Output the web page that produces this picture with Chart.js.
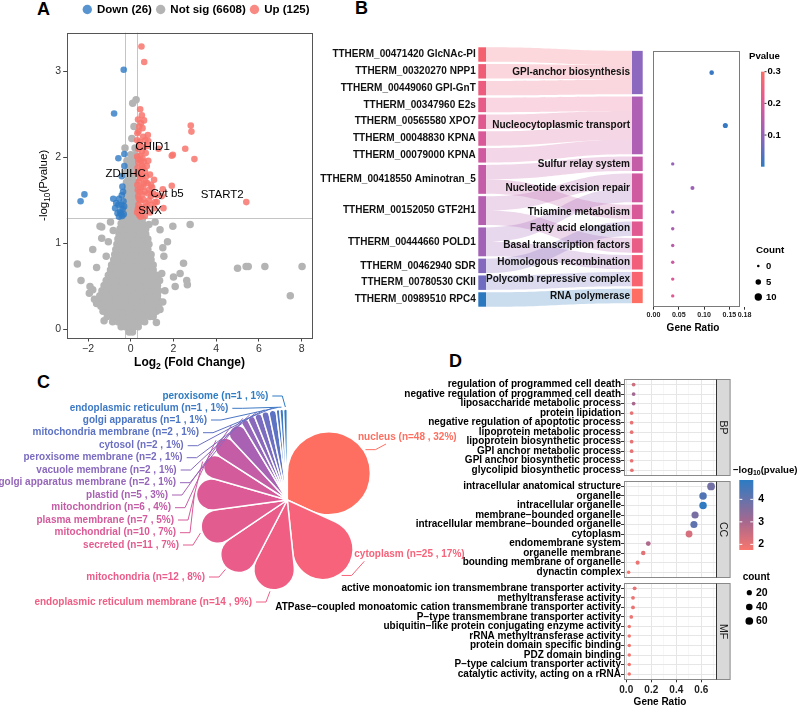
<!DOCTYPE html>
<html><head><meta charset="utf-8">
<script src="https://cdn.jsdelivr.net/npm/chart.js@4.4.1/dist/chart.umd.min.js"></script>
<style>
html,body{margin:0;padding:0;background:#fff}
body{position:relative;width:798px;height:707px;overflow:hidden;font-family:'Liberation Sans',Arial,Helvetica,sans-serif}
canvas{position:absolute}
.pl{position:absolute;font-weight:bold;font-size:18px;line-height:18px;color:#000}
</style></head><body>
<div class="pl" style="left:37px;top:0px">A</div>
<div class="pl" style="left:355px;top:-1px">B</div>
<div class="pl" style="left:37px;top:373px">C</div>
<div class="pl" style="left:449px;top:352px">D</div>
<canvas id="cC"></canvas>
<canvas id="cD"></canvas>
<canvas id="cA"></canvas>
<canvas id="cS"></canvas>
<canvas id="cB"></canvas>
<script>
// ===================== DATA =====================
// ---- Panel A: volcano ----
const volcanoXTicks = [-2,0,2,4,6,8];
const volcanoYTicks = [0,1,2,3];
const fcCut = 0.28, pCut = 1.301;
const legendA = ['Down (26)','Not sig (6608)','Up (125)'];
const upPts = [[0.50,3.29],[0.63,3.11],[0.44,2.56],[0.52,2.49],[0.62,2.43],[0.34,2.44],[0.40,2.36],[0.55,2.34],[0.31,2.28],[0.80,2.26],[0.58,2.24],[0.30,2.20],[0.82,2.19],[0.40,2.14],[0.75,2.13],[0.52,2.07],[0.30,2.01],[0.55,1.99],[0.36,1.94],[0.82,1.96],[0.52,1.90],[0.66,1.84],[0.31,1.82],[0.90,1.80],[0.44,1.76],[0.69,1.72],[1.09,1.74],[0.31,1.68],[0.58,1.66],[1.50,1.63],[1.92,1.67],[0.42,1.60],[0.82,1.58],[1.14,1.48],[0.58,1.51],[0.36,1.45],[0.75,1.43],[1.09,1.41],[0.52,1.37],[0.30,1.36],[0.90,1.36],[0.66,1.32],[2.81,2.37],[2.84,2.30],[2.55,2.10],[1.97,2.03],[2.98,1.98],[5.41,1.48],[1.45,1.55],[1.22,1.56],[1.53,1.41],[1.22,1.48],[1.30,2.10],[1.92,2.02],[0.35,1.55],[0.45,1.50],[0.65,1.60],[0.38,1.72],[0.62,1.95],[0.45,2.02],[0.70,2.05],[0.35,2.10],[0.95,1.55],[0.50,1.42],[0.40,1.33],[0.78,1.70],[0.98,1.45],[0.32,1.88],[0.48,1.85],[1.00,1.65],[0.85,1.50],[0.33,1.40],[0.45,1.38],[0.60,1.40],[0.70,1.47],[0.38,1.52],[0.55,1.57],[0.33,1.62],[0.48,1.65],[0.62,1.70],[0.40,1.80],[0.55,1.78],[0.72,1.78],[0.35,1.98],[0.48,1.96],[0.42,2.18],[0.60,2.12],[0.36,2.30],[0.48,2.40],[0.58,1.88],[0.75,1.90],[0.95,1.68],[0.85,1.62],[1.05,1.58],[0.68,2.20],[0.46,1.31]];
const downPts = [[-0.33,3.02],[-0.78,2.51],[-0.30,2.04],[-0.58,1.99],[-0.30,1.90],[-0.42,1.78],[-0.39,1.66],[-2.17,1.57],[-2.35,1.49],[-0.82,1.52],[-0.42,1.56],[-0.73,1.41],[-0.50,1.37],[-0.38,1.40],[-0.58,1.45],[-0.34,1.49],[-0.47,1.35],[-0.62,1.35],[-0.36,1.60],[-0.55,1.52],[-0.33,1.34],[-0.44,1.45],[-0.68,1.47],[-0.31,1.43],[-0.40,1.32],[-0.55,1.31]];
const notSigRows = [
 [-0.03,[-0.08,0.08]],
 [0.03,[-0.45,-0.25,-0.05,0.15,0.35]],
 [0.09,[-0.85,-0.6,-0.35,-0.1,0.15,0.4,0.65]],
 [0.15,[-1.1,-0.85,-0.6,-0.35,-0.1,0.15,0.4,0.65,0.9,1.05]],
 [0.21,[-1.3,-1.05,-0.8,-0.55,-0.3,-0.05,0.2,0.45,0.7,0.95,1.2]],
 [0.27,[-1.4,-1.15,-0.9,-0.65,-0.4,-0.15,0.1,0.35,0.6,0.85,1.1,1.3]],
 [0.33,[-1.45,-1.2,-0.95,-0.7,-0.45,-0.2,0.05,0.3,0.55,0.8,1.05,1.3]],
 [0.39,[-1.45,-1.2,-0.95,-0.7,-0.45,-0.2,0.05,0.3,0.55,0.8,1.05,1.25]],
 [0.45,[-1.35,-1.1,-0.85,-0.6,-0.35,-0.1,0.15,0.4,0.65,0.9,1.15,1.3]],
 [0.51,[-1.25,-1.0,-0.75,-0.5,-0.25,0.0,0.25,0.5,0.75,1.0,1.25]],
 [0.57,[-1.15,-0.9,-0.65,-0.4,-0.15,0.1,0.35,0.6,0.85,1.1,1.35]],
 [0.63,[-1.05,-0.8,-0.55,-0.3,-0.05,0.2,0.45,0.7,0.95,1.2]],
 [0.69,[-0.95,-0.7,-0.45,-0.2,0.05,0.3,0.55,0.8,1.05]],
 [0.75,[-0.9,-0.65,-0.4,-0.15,0.1,0.35,0.6,0.85,1.05]],
 [0.81,[-0.8,-0.55,-0.3,-0.05,0.2,0.45,0.7,0.95]],
 [0.87,[-0.75,-0.5,-0.25,0.0,0.25,0.5,0.75,0.95]],
 [0.93,[-0.7,-0.45,-0.2,0.05,0.3,0.55,0.8]],
 [0.99,[-0.65,-0.4,-0.15,0.1,0.35,0.6,0.85]],
 [1.05,[-0.6,-0.35,-0.1,0.15,0.4,0.65,0.8]],
 [1.11,[-0.55,-0.3,-0.05,0.2,0.45,0.7]],
 [1.17,[-0.5,-0.25,0.0,0.25,0.5,0.7]],
 [1.23,[-0.45,-0.2,0.05,0.3,0.55]],
 [1.29,[-0.4,-0.15,0.1,0.35,0.55]],
 [1.35,[-0.2,0.0,0.2]],
 [1.41,[-0.22,-0.02,0.18]],
 [1.47,[-0.2,0.0,0.2]],
 [1.53,[-0.18,0.02,0.22]],
 [1.59,[-0.2,0.0,0.2]],
 [1.65,[-0.15,0.05,0.22]],
 [1.71,[-0.2,0.0,0.2]],
 [1.77,[-0.1,0.1]],
 [1.83,[-0.2,0.0,0.2]],
 [1.90,[-0.05,0.15]],
 [1.96,[-0.18,0.1]],
 [2.03,[0.0,0.2]],
 [2.11,[-0.27,0.2]],
 [2.22,[0.05]],
 [2.36,[0.15]],
 [2.63,[0.09]],
 [2.67,[0.25]]
];
const notSigScatter = [[2.78,1.22],[-1.36,1.19],[-0.82,1.15],[-1.78,0.93],[-2.50,0.76],[-2.33,0.57],[-1.94,0.42],[2.47,0.77],[2.62,0.57],[2.08,0.50],[1.72,1.02],[1.37,1.16],[1.14,1.25],[1.97,1.20],[-1.44,1.20],[-1.36,1.06],[1.37,0.23],[1.06,0.19],[2.00,0.61],[2.31,0.65],[2.65,0.52],[-1.78,0.46],[-1.91,0.50],[-1.60,0.72],[1.55,0.85],[1.60,0.45],[1.50,0.95],[-1.05,1.02],[-1.60,0.30],[-1.70,0.35],[1.50,0.32],[1.45,0.65],[-1.15,0.85],[5.00,0.71],[5.40,0.73],[5.50,0.73],[6.28,0.73],[8.02,0.73],[7.47,0.39],[-0.95,1.25],[0.85,1.22],[-1.25,0.10],[1.20,0.08]];
const geneTags = ['CHID1','ZDHHC','Cyt b5','START2','SNX'];
const geneTagPos = [[1.02,2.12],[-0.24,1.81],[1.70,1.58],[4.28,1.57],[0.90,1.38]];

// ---- Panel B: sankey + dot plot ----
const geneLabels = ['TTHERM_00471420 GlcNAc-PI','TTHERM_00320270 NPP1','TTHERM_00449060 GPI-GnT','TTHERM_00347960 E2s','TTHERM_00565580 XPO7','TTHERM_00048830 KPNA','TTHERM_00079000 KPNA','TTHERM_00418550 Aminotran_5','TTHERM_00152050 GTF2H1','TTHERM_00444660 POLD1','TTHERM_00462940 SDR','TTHERM_00780530 CKII','TTHERM_00989510 RPC4'];
const pathwayLabels = ['GPI-anchor biosynthesis','Nucleocytoplasmic transport','Sulfur relay system','Nucleotide excision repair','Thiamine metabolism','Fatty acid elongation','Basal transcription factors','Homologous recombination','Polycomb repressive complex','RNA polymerase'];
const sankeyLinks = [[0,0,1],[1,0,1],[2,0,1],[3,1,1],[4,1,1],[5,1,1],[6,1,1],[7,2,1],[7,4,1],[8,3,1],[8,6,1],[9,3,1],[9,7,1],[10,5,1],[11,8,1],[12,9,1]];
const pathwayRatio = [0.115,0.142,0.038,0.077,0.038,0.038,0.038,0.038,0.038,0.038];
const pathwayCount = [3,4,1,2,1,1,1,1,1,1];
const pathwayP = [0.012,0.008,0.10,0.11,0.10,0.13,0.15,0.17,0.20,0.21];
const ratioTicksB = [0,0.05,0.10,0.15,0.18];
const pvalTicksB = [0.1,0.2,0.3];
const countTicksB = [0,5,10];

// ---- Panel C: subcellular location rose ----
const locNames = ['nucleus','cytoplasm','endoplasmic reticulum membrane','mitochondria','secreted','mitochondrial','plasma membrane','mitochondrion','plastid','golgi apparatus membrane','vacuole membrane','peroxisome membrane','cytosol','mitochondria membrane','golgi apparatus','endoplasmic reticulum','peroxisome'];
const locCounts = [48,25,14,12,11,10,7,6,5,2,2,2,2,2,1,1,1];
const locPct = [32,17,9,8,7,7,5,4,3,1,1,1,1,1,1,1,1];

// ---- Panel D: GO enrichment ----
const bpTerms = ['regulation of programmed cell death','negative regulation of programmed cell death','liposaccharide metabolic process','protein lipidation','negative regulation of apoptotic process','lipoprotein metabolic process','lipoprotein biosynthetic process','GPI anchor metabolic process','GPI anchor biosynthetic process','glycolipid biosynthetic process'];
const bpRatio = [0.059,0.059,0.059,0.043,0.043,0.043,0.043,0.043,0.043,0.045];
const bpLogP = [2.4,3.1,3.0,2.0,2.0,2.0,2.0,2.0,2.0,2.0];
const bpCount = [5,5,5,4,4,4,4,4,4,4];
const ccTerms = ['intracellular anatomical structure','organelle','intracellular organelle','membrane\u2212bounded organelle','intracellular membrane\u2212bounded organelle','cytoplasm','endomembrane system','organelle membrane','bounding membrane of organelle','dynactin complex'];
const ccRatio = [0.678,0.614,0.614,0.550,0.541,0.502,0.176,0.136,0.091,0.019];
const ccLogP = [3.8,4.3,4.8,3.7,4.1,2.3,2.9,2.1,1.95,1.85];
const ccCount = [61,55,55,50,49,45,16,12,8,2];
const mfTerms = ['active monoatomic ion transmembrane transporter activity','methyltransferase activity','ATPase\u2212coupled monoatomic cation transmembrane transporter activity','P\u2212type transmembrane transporter activity','ubiquitin\u2212like protein conjugating enzyme activity','rRNA methyltransferase activity','protein domain specific binding','PDZ domain binding','P\u2212type calcium transporter activity','catalytic activity, acting on a rRNA'];
const mfRatio = [0.067,0.054,0.054,0.040,0.024,0.024,0.024,0.024,0.024,0.024];
const mfLogP = [2.0,1.95,1.95,1.9,1.85,1.85,1.85,1.85,1.85,1.85];
const mfCount = [6,5,5,4,2,2,2,2,2,2];
const facetNames = ['BP','CC','MF'];
const ratioTicksD = [0,0.1,0.2,0.3,0.4,0.5,0.6,0.7];
const logpTicksD = [2,3,4];
const countTicksD = [20,40,60];

// ===================== STYLE / LAYOUT =====================
const FONT = "'Liberation Sans', Arial, Helvetica, sans-serif";
Chart.defaults.font.family = FONT;
Chart.defaults.color = '#000';
function setup(id, left, top, w, h){ const c=document.getElementById(id); c.width=w; c.height=h; Object.assign(c.style,{left:left+'px',top:top+'px',width:w+'px',height:h+'px'}); return c; }
function hexA(h,a){ const n=parseInt(h.slice(1),16); return `rgba(${n>>16},${(n>>8)&255},${n&255},${a})`; }
function lerpStops(stops,t){ t=Math.max(0,Math.min(1,t)); for(let i=1;i<stops.length;i++){ if(t<=stops[i][0]){ const [t0,c0]=stops[i-1],[t1,c1]=stops[i]; const f=(t-t0)/(t1-t0); return `rgb(${c0.map((v,k)=>Math.round(v+(c1[k]-v)*f)).join(',')})`; } } const c=stops[stops.length-1][1]; return `rgb(${c.join(',')})`; }
function segText(ctx, segs, x, y, size, weight, align, color){
  ctx.save(); ctx.fillStyle=color; ctx.textBaseline='middle'; ctx.textAlign='left';
  const f = s => `${weight} ${s? size*0.72 : size}px ${FONT}`;
  let tot=0; segs.forEach(([t,s])=>{ctx.font=f(s); tot+=ctx.measureText(t).width;});
  let cx = align==='center'? x-tot/2 : align==='right'? x-tot : x;
  segs.forEach(([t,s])=>{ctx.font=f(s); ctx.fillText(t,cx,s? y+size*0.32 : y); cx+=ctx.measureText(t).width;});
  ctx.restore();
}
const noInteract = {responsive:false, animation:false, events:[]};
const noPlug = {legend:{display:false}, tooltip:{enabled:false}};

// ---- petal-shaped arc element (sector closed by a tangent circle) ----
class PetalArc extends Chart.ArcElement {
  draw(ctx){
    const {x,y,startAngle,endAngle,outerRadius} = this.getProps(['x','y','startAngle','endAngle','outerRadius']);
    const o=this.options, th=endAngle-startAngle;
    if(!(th>0)) return;
    const mid=(startAngle+endAngle)/2, s=Math.sin(Math.min(th,Math.PI*0.98)/2);
    const d=outerRadius/(1+s), rho=d*s;
    const cx=x+Math.cos(mid)*d, cy=y+Math.sin(mid)*d;
    ctx.save();
    ctx.beginPath(); ctx.moveTo(x,y); ctx.arc(cx,cy,rho,startAngle-Math.PI/2,endAngle+Math.PI/2); ctx.closePath();
    ctx.fillStyle=o.backgroundColor; ctx.fill();
    if(o.borderWidth){ ctx.lineWidth=o.borderWidth; ctx.strokeStyle=o.borderColor; ctx.lineJoin='round'; ctx.stroke(); }
    ctx.restore();
  }
}
PetalArc.id='petalArc';
class PetalController extends Chart.PieController {}
PetalController.id='petal';
PetalController.defaults={dataElementType:'petalArc'};
Chart.register(PetalArc, PetalController);

// ===================== PANEL A =====================
const COL_UP='rgba(248,118,109,0.85)', COL_DOWN='rgba(46,122,196,0.8)', COL_NS='rgb(180,180,180)';
const cA = setup('cA',0,0,330,380);
const notSigPts=[]; notSigRows.forEach(([y,xs])=>xs.forEach(x=>notSigPts.push({x,y}))); notSigScatter.forEach(([x,y])=>notSigPts.push({x,y}));
const toPts = a => a.map(([x,y])=>({x,y}));
const volcanoPlugin = {
  id:'volcano',
  beforeDatasetsDraw(chart){
    const {ctx, chartArea:a, scales:{x,y}} = chart;
    ctx.save(); ctx.strokeStyle='#c4c4c4'; ctx.lineWidth=1;
    [-fcCut,fcCut].forEach(v=>{ const px=Math.round(x.getPixelForValue(v))+0.5; ctx.beginPath(); ctx.moveTo(px,a.top); ctx.lineTo(px,a.bottom); ctx.stroke(); });
    const py=Math.round(y.getPixelForValue(pCut))+0.5; ctx.beginPath(); ctx.moveTo(a.left,py); ctx.lineTo(a.right,py); ctx.stroke();
    ctx.restore();
  },
  afterDraw(chart){
    const {ctx, chartArea:a, scales:{x,y}} = chart;
    ctx.save();
    ctx.strokeStyle='#555'; ctx.lineWidth=1; ctx.strokeRect(Math.round(a.left)+0.5, Math.round(a.top)+0.5, Math.round(a.right-a.left)-1, Math.round(a.bottom-a.top));
    ctx.fillStyle='#000'; ctx.font=`11.5px ${FONT}`; ctx.textAlign='center'; ctx.textBaseline='middle';
    geneTags.forEach((t,i)=>ctx.fillText(t, x.getPixelForValue(geneTagPos[i][0]), y.getPixelForValue(geneTagPos[i][1])));
    const cols=[COL_DOWN,COL_NS,COL_UP];
    ctx.font=`bold 11.5px ${FONT}`; ctx.textAlign='left';
    let lx=82.6; const ly=9.5;
    legendA.forEach((t,i)=>{ ctx.fillStyle=cols[i]; ctx.beginPath(); ctx.arc(lx+4.7,ly,4.7,0,Math.PI*2); ctx.fill(); ctx.fillStyle='#000'; ctx.fillText(t,lx+14.4,ly); lx+=14.4+ctx.measureText(t).width+4; });
    ctx.restore();
    segText(ctx,[['Log',0],['2',1],[' (Fold Change)',0]], (a.left+a.right)/2, 363, 12, 'bold', 'center', '#000');
    ctx.save(); ctx.translate(44,(a.top+a.bottom)/2); ctx.rotate(-Math.PI/2);
    segText(ctx,[['-log',0],['10',1],['(Pvalue)',0]], 0, 0, 11.5, 'normal', 'center', '#000');
    ctx.restore();
  }
};
new Chart(cA,{
  type:'scatter',
  data:{datasets:[
    {label:legendA[2], data:toPts(upPts), backgroundColor:COL_UP, pointRadius:3.3, pointBorderWidth:0, borderWidth:0, order:1},
    {label:legendA[0], data:toPts(downPts), backgroundColor:COL_DOWN, pointRadius:3.3, pointBorderWidth:0, borderWidth:0, order:2},
    {label:legendA[1], data:notSigPts, backgroundColor:COL_NS, pointRadius:3.75, pointBorderWidth:0, borderWidth:0, order:3}
  ]},
  options:{...noInteract, plugins:noPlug,
    layout:{padding:{left:0,top:32.7,right:17.7,bottom:0}},
    scales:{
      x:{type:'linear',min:-3.0,max:8.5, afterBuildTicks:s=>{s.ticks=volcanoXTicks.map(v=>({value:v}));}, afterFit:s=>{s.height=42;},
        grid:{display:true,drawOnChartArea:false,drawTicks:true,tickLength:3.5,tickColor:'#444',tickWidth:1}, border:{display:false},
        ticks:{font:{size:10.5},color:'#333',padding:1,maxRotation:0,autoSkip:false,callback:v=>v<0?'\u2212'+Math.abs(v):String(v)}},
      y:{type:'linear',min:-0.10,max:3.45, afterBuildTicks:s=>{s.ticks=volcanoYTicks.map(v=>({value:v}));}, afterFit:s=>{s.width=66.7;},
        grid:{display:true,drawOnChartArea:false,drawTicks:true,tickLength:3.5,tickColor:'#444',tickWidth:1}, border:{display:false},
        ticks:{font:{size:10.5},color:'#333',padding:2,autoSkip:false}}
    }},
  plugins:[volcanoPlugin]
});

// ===================== PANEL B: SANKEY =====================
const leftNodeColors = ['#F4606E','#F05E76','#EC5C7F','#E65B88','#E05A90','#D95A98','#D05AA0','#C45CA8','#B55FB0','#A262B6','#8468BD','#706BC1','#2B78BE'];
const rightNodeColors = ['#8C69BE','#AF60B4','#C45CA8','#D05AA0','#D95A98','#E05A91','#E95C86','#F25F7A','#F8646F','#FF6E62'];
const GAP = 0.165, NODE_W_L = 7.7, NODE_W_R = 10.7;
const leftCount = geneLabels.map((_,i)=>sankeyLinks.filter(l=>l[0]===i).reduce((s,l)=>s+l[2],0));
const rightCount = pathwayLabels.map((_,j)=>sankeyLinks.filter(l=>l[1]===j).reduce((s,l)=>s+l[2],0));
const totL = leftCount.reduce((a,b)=>a+b,0)+GAP*(leftCount.length-1);
const totR = rightCount.reduce((a,b)=>a+b,0)+GAP*(rightCount.length-1);
function stackNodes(counts,start){ let c=start; return counts.map(h=>{const n={top:c,bot:c+h}; c+=h+GAP; return n;}); }
const leftNodes = stackNodes(leftCount,0);
const rightNodes = stackNodes(rightCount,(totL-totR)/2);
const linkGeo = sankeyLinks.map(()=>({}));
const idx = sankeyLinks.map((l,k)=>[l,k]);
leftNodes.forEach((n,i)=>{ let c=n.top; idx.filter(([l])=>l[0]===i).sort((a,b)=>a[0][1]-b[0][1]).forEach(([l,k])=>{linkGeo[k].l0=c; c+=l[2]; linkGeo[k].l1=c;}); });
rightNodes.forEach((n,j)=>{ let c=n.top; idx.filter(([l])=>l[1]===j).sort((a,b)=>a[0][0]-b[0][0]).forEach(([l,k])=>{linkGeo[k].r0=c; c+=l[2]; linkGeo[k].r1=c;}); });
const sankeyPlugin = {id:'sankey', afterDatasetsDraw(chart){
  const {ctx} = chart, X=chart.scales.x, Y=chart.scales.y;
  const xl=X.getPixelForValue(0), xr=X.getPixelForValue(1);
  const x0=xl+NODE_W_L, x1=xr-NODE_W_R, xm=(x0+x1)/2;
  ctx.save();
  sankeyLinks.forEach((l,k)=>{ const g=linkGeo[k];
    const a0=Y.getPixelForValue(g.l0), a1=Y.getPixelForValue(g.l1), b0=Y.getPixelForValue(g.r0), b1=Y.getPixelForValue(g.r1);
    ctx.beginPath(); ctx.moveTo(x0,a0); ctx.bezierCurveTo(xm,a0,xm,b0,x1,b0); ctx.lineTo(x1,b1); ctx.bezierCurveTo(xm,b1,xm,a1,x0,a1); ctx.closePath();
    ctx.fillStyle=hexA(leftNodeColors[l[0]],0.25); ctx.fill(); });
  leftNodes.forEach((n,i)=>{ const t=Y.getPixelForValue(n.top), b=Y.getPixelForValue(n.bot); ctx.fillStyle=leftNodeColors[i]; ctx.fillRect(xl,t,NODE_W_L,b-t); });
  rightNodes.forEach((n,j)=>{ const t=Y.getPixelForValue(n.top), b=Y.getPixelForValue(n.bot); ctx.fillStyle=rightNodeColors[j]; ctx.fillRect(x1,t,NODE_W_R,b-t); });
  ctx.font=`bold 10px ${FONT}`; ctx.fillStyle='#111'; ctx.textBaseline='middle'; ctx.textAlign='right';
  leftNodes.forEach((n,i)=>ctx.fillText(geneLabels[i], xl-2.5, Y.getPixelForValue((n.top+n.bot)/2)));
  rightNodes.forEach((n,j)=>ctx.fillText(pathwayLabels[j], x1-2, Y.getPixelForValue((n.top+n.bot)/2)));
  ctx.restore();
}};
const cS = setup('cS',240,40,410,280);
new Chart(cS,{type:'scatter', data:{datasets:[{data:[]}]},
  options:{...noInteract, plugins:noPlug, layout:{padding:{left:238.3,right:7.3,top:7.3,bottom:13.3}},
    scales:{x:{type:'linear',min:0,max:1,display:false}, y:{type:'linear',min:0,max:totL,reverse:true,display:false}}},
  plugins:[sankeyPlugin]});

// ---- B dot plot ----
const pStops = [[0,[44,123,196]],[0.33,[150,98,186]],[0.67,[222,88,152]],[1,[255,107,100]]];
const P_MIN=0, P_MAX=0.3;
const pColor = p => lerpStops(pStops,(p-P_MIN)/(P_MAX-P_MIN));
const sizeB = c => Math.sqrt(1.69+1.2*c);
const cB = setup('cB',640,40,158,300);
const dotBPlugin = {id:'dotB', afterDraw(chart){
  const {ctx, chartArea:a} = chart;
  ctx.save();
  ctx.strokeStyle='#7a7a7a'; ctx.lineWidth=1; ctx.strokeRect(Math.round(a.left)+0.5,Math.round(a.top)+0.5,Math.round(a.right-a.left)-1,Math.round(a.bottom-a.top)-1);
  ctx.fillStyle='#000'; ctx.font=`bold 10px ${FONT}`; ctx.textAlign='center'; ctx.textBaseline='middle';
  ctx.fillText('Gene Ratio',693-640, 288);
  ctx.textAlign='left'; ctx.font=`bold 9.6px ${FONT}`; ctx.fillText('Pvalue',109,16);
  const bx=121, bw=3.5, bt=31.7, bb=126.7;
  const val2y = v => bb - (v - P_MIN)/(P_MAX-P_MIN)*(bb-bt);
  const gr = ctx.createLinearGradient(0,bb,0,bt);
  for(let i=0;i<=10;i++){ gr.addColorStop(i/10, pColor(P_MIN+(P_MAX-P_MIN)*i/10)); }
  ctx.fillStyle=gr; ctx.fillRect(bx,bt,bw,bb-bt);
  ctx.fillStyle='#000'; ctx.font=`bold 9.5px ${FONT}`;
  pvalTicksB.forEach(v=>{ const yy=val2y(v); ctx.strokeStyle='#333'; ctx.beginPath(); ctx.moveTo(bx+bw,yy); ctx.lineTo(bx+bw+2,yy); ctx.stroke(); ctx.fillText(v.toFixed(1),bx+bw+3,yy); });
  ctx.font=`bold 9.8px ${FONT}`; ctx.fillText('Count',116,210);
  const cy=[226,242,257];
  countTicksB.forEach((c,i)=>{ ctx.fillStyle='#000'; ctx.beginPath(); ctx.arc(118.3,cy[i],sizeB(c),0,Math.PI*2); ctx.fill(); ctx.font=`bold 9.5px ${FONT}`; ctx.fillText(String(c),126,cy[i]); });
  ctx.restore();
}};
new Chart(cB,{type:'scatter',
  data:{datasets:[{data:pathwayLabels.map((_,j)=>({x:pathwayRatio[j], y:(rightNodes[j].top+rightNodes[j].bot)/2})),
    backgroundColor:pathwayP.map(pColor), pointRadius:pathwayCount.map(sizeB), pointBorderWidth:0, borderWidth:0}]},
  options:{...noInteract, plugins:noPlug, layout:{padding:{left:12.7,right:58,top:11,bottom:0}},
    scales:{
      x:{type:'linear',min:-0.0016,max:0.171, afterBuildTicks:s=>{s.ticks=ratioTicksB.map(v=>({value:v}));}, afterFit:s=>{s.height=33.3;},
        grid:{display:true,drawOnChartArea:false,drawTicks:true,tickLength:3,tickColor:'#333'}, border:{display:false},
        ticks:{font:{size:7.1,weight:'bold'},color:'#222',padding:1,maxRotation:0,autoSkip:false,callback:v=>v.toFixed(2)}},
      y:{type:'linear',min:(totL-totR)/2,max:totL,reverse:true,display:false}
    }},
  plugins:[dotBPlugin]});

// ===================== PANEL C: rose =====================
const locColors = ['#FF6F61','#F7637A','#F05E84','#EA5D8B','#E35C90','#DC5B96','#D35B9C','#C45DA6','#A962B3','#9666BA','#8A69BD','#7B6CC0','#6C6FC2','#5C72C3','#4B76C4','#3D79C4','#2E7CC4'];
const locLabelLayout = [[358,437,'L',28],[354.3,554.3,'L',10],[252,602,'R'],[205,577,'R'],[179,545,'R'],[176,532.7,'R'],[174,520,'R'],[171,507.7,'R'],[168,495,'R'],[176,482.7,'R'],[176.7,470,'R'],[182.7,457.7,'R'],[183.7,445.7,'R'],[199,432.7,'R'],[207,420,'R'],[228.3,408.3,'R'],[268.3,396,'R']];
const C_TOP = 370;
const roseLabels = {id:'roseLabels', afterDraw(chart){
  const {ctx} = chart; const meta=chart.getDatasetMeta(0);
  ctx.save(); ctx.font=`bold 10px ${FONT}`; ctx.textBaseline='middle'; ctx.lineWidth=1;
  meta.data.forEach((arc,i)=>{
    const p=arc.getProps(['x','y','startAngle','endAngle','outerRadius'],true);
    const mid=(p.startAngle+p.endAngle)/2;
    const ax=p.x+Math.cos(mid)*(p.outerRadius+2), ay=p.y+Math.sin(mid)*(p.outerRadius+2);
    const [lx,lyPage,side,edx]=locLabelLayout[i]; const ly=lyPage-C_TOP;
    const txt=`${locNames[i]} (n=${locCounts[i]} , ${locPct[i]}%)`;
    ctx.strokeStyle=locColors[i]; ctx.fillStyle=locColors[i];
    ctx.beginPath();
    if(side==='R'){ ctx.moveTo(lx+4,ly); ctx.lineTo(lx+14,ly); ctx.lineTo(ax,ay); ctx.textAlign='right'; }
    else { ctx.moveTo(ax,ay); ctx.lineTo(ax+10,ay); ctx.lineTo(lx+edx,ly+7); ctx.textAlign='left'; }
    ctx.stroke();
    ctx.fillText(txt,lx,ly);
  });
  ctx.restore();
}};
const cC = setup('cC',0,C_TOP,480,250);
new Chart(cC,{type:'petal',
  data:{labels:locNames, datasets:[{data:locCounts, backgroundColor:locColors, borderColor:'#ffffff', borderWidth:1.5}]},
  options:{...noInteract, plugins:noPlug, radius:91, layout:{padding:{left:187.3,right:92.7,top:30,bottom:20}}},
  plugins:[roseLabels]});

// ===================== PANEL D =====================
const facetTerms=[bpTerms,ccTerms,mfTerms], facetRatio=[bpRatio,ccRatio,mfRatio], facetLogP=[bpLogP,ccLogP,mfLogP], facetCount=[bpCount,ccCount,mfCount];
const FACET_ROW0=[0,10.7,21.4], FACET_PAD=0.55;
const LP_MIN=1.75, LP_MAX=4.86;
const lpStops=[[0,[248,118,109]],[0.4,[168,104,142]],[1,[44,123,196]]];
const lpColor = v => lerpStops(lpStops,(v-LP_MIN)/(LP_MAX-LP_MIN));
const sizeD = c => Math.sqrt(2.6+0.205*c);
const rowPos=[], rowLab=[], ptsD=[], colD=[], radD=[];
facetTerms.forEach((terms,f)=>terms.forEach((t,i)=>{ const yy=FACET_ROW0[f]+i; rowPos.push(yy); rowLab.push(t); ptsD.push({x:facetRatio[f][i],y:yy}); colD.push(lpColor(facetLogP[f][i])); radD.push(sizeD(facetCount[f][i])); }));
const D_LEFT=265, D_TOP=345;
const cD = setup('cD',D_LEFT,D_TOP,533,362);
const facetPlugin = {id:'facet',
  beforeDatasetsDraw(chart){
    const {ctx, chartArea:a, scales:{y}} = chart;
    ctx.save(); ctx.fillStyle='#fff';
    for(let f=0;f<facetNames.length-1;f++){ const yb=y.getPixelForValue(FACET_ROW0[f]+facetTerms[f].length-1+FACET_PAD), yt=y.getPixelForValue(FACET_ROW0[f+1]-FACET_PAD); ctx.fillRect(a.left-0.5,yb,a.right-a.left+1,yt-yb); }
    ctx.restore();
  },
  afterDraw(chart){
    const {ctx, chartArea:a, scales:{y}} = chart;
    ctx.save();
    facetNames.forEach((nm,f)=>{
      const yt=Math.round(y.getPixelForValue(FACET_ROW0[f]-FACET_PAD))+0.5, yb=Math.round(y.getPixelForValue(FACET_ROW0[f]+facetTerms[f].length-1+FACET_PAD))+0.5;
      const l=Math.round(a.left)+0.5, r=Math.round(a.right)+0.5;
      ctx.fillStyle='#D9D9D9'; ctx.fillRect(r,yt,13.6,yb-yt);
      ctx.strokeStyle='#8a8a8a'; ctx.lineWidth=1; ctx.strokeRect(l,yt,r-l,yb-yt); ctx.strokeRect(r,yt,13.6,yb-yt);
      ctx.strokeStyle='#333'; ctx.beginPath(); ctx.moveTo(r,yt); ctx.lineTo(r,yb); ctx.stroke();
      ctx.save(); ctx.translate(r+6.8,(yt+yb)/2); ctx.rotate(Math.PI/2); ctx.fillStyle='#1a1a1a'; ctx.font=`10.5px ${FONT}`; ctx.textAlign='center'; ctx.textBaseline='middle'; ctx.fillText(nm,0,0); ctx.restore();
    });
    ctx.fillStyle='#000'; ctx.font=`bold 10px ${FONT}`; ctx.textAlign='center'; ctx.textBaseline='middle';
    ctx.fillText('Gene Ratio',660-D_LEFT, 702.7-D_TOP);
    const ox=-D_LEFT, oy=-D_TOP;
    segText(ctx,[['\u2212log',0],['10',1],['(pvalue)',0]], 733+ox, 470+oy, 9.6, 'bold', 'left', '#000');
    const bx=739.3+ox, bw=14, bt=480+oy, bb=550+oy;
    const v2y = v => bb-(v-LP_MIN)/(LP_MAX-LP_MIN)*(bb-bt);
    const gr=ctx.createLinearGradient(0,bb,0,bt); for(let i=0;i<=10;i++) gr.addColorStop(i/10, lpColor(LP_MIN+(LP_MAX-LP_MIN)*i/10));
    ctx.fillStyle=gr; ctx.fillRect(bx,bt,bw,bb-bt);
    ctx.font=`bold 10.5px ${FONT}`; ctx.textAlign='left'; ctx.fillStyle='#000';
    logpTicksD.forEach(v=>{ const yy=v2y(v); ctx.strokeStyle='#fff'; ctx.beginPath(); ctx.moveTo(bx,yy); ctx.lineTo(bx+3,yy); ctx.moveTo(bx+bw-3,yy); ctx.lineTo(bx+bw,yy); ctx.stroke(); ctx.fillText(String(v),bx+bw+5,yy); });
    ctx.font=`bold 10px ${FONT}`; ctx.fillText('count',742.7+ox,577.7+oy);
    const cyy=[592.7,607,621];
    ctx.font=`bold 10.5px ${FONT}`;
    countTicksD.forEach((c,i)=>{ ctx.fillStyle='#000'; ctx.beginPath(); ctx.arc(749.3+ox,cyy[i]+oy,sizeD(c),0,Math.PI*2); ctx.fill(); ctx.fillText(String(c),756+ox,cyy[i]+oy); });
    ctx.restore();
  }};
new Chart(cD,{type:'scatter',
  data:{datasets:[{data:ptsD, backgroundColor:colD, pointRadius:radD, pointBorderWidth:0, borderWidth:0}]},
  options:{...noInteract, plugins:noPlug, layout:{padding:{left:0,right:82.3,top:34.3,bottom:0}},
    scales:{
      x:{type:'linear',min:-0.018,max:0.715, afterBuildTicks:s=>{s.ticks=ratioTicksD.map(v=>({value:v}));}, afterFit:s=>{s.height=27.7;},
        grid:{display:true,drawOnChartArea:true,drawTicks:true,tickLength:3,color:c=>(Math.round(c.tick.value*10)%2===0?'#E6E6E6':'#F2F2F2'),lineWidth:c=>(Math.round(c.tick.value*10)%2===0?1:0.6),tickColor:c=>(Math.round(c.tick.value*10)%2===0?'#333':'rgba(0,0,0,0)')}, border:{display:false},
        ticks:{font:{size:10,weight:'bold'},color:'#222',padding:1.5,maxRotation:0,autoSkip:false,callback:v=>(Math.round(v*10)%2===0?v.toFixed(1):'')}},
      y:{type:'linear',min:-FACET_PAD,max:FACET_ROW0[2]+mfTerms.length-1+FACET_PAD,reverse:true, afterBuildTicks:s=>{s.ticks=rowPos.map(v=>({value:v}));}, afterFit:s=>{s.width=359;},
        grid:{display:true,drawOnChartArea:true,drawTicks:true,tickLength:3,color:'#E6E6E6',lineWidth:1,tickColor:'#333'}, border:{display:false},
        ticks:{font:{size:10,weight:'bold'},color:'#000',padding:0,autoSkip:false,callback:(v,i)=>rowLab[i]}}
    }},
  plugins:[facetPlugin]});
</script></body></html>
